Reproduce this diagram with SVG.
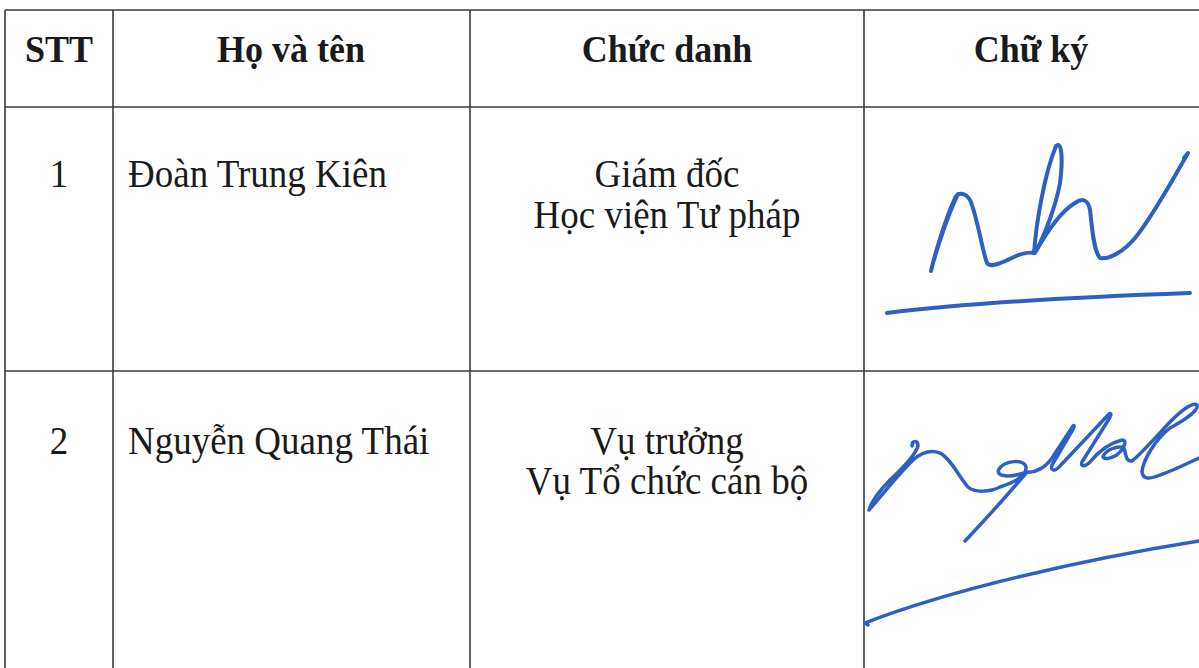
<svg xmlns="http://www.w3.org/2000/svg" width="1199" height="668" viewBox="0 0 1199 668">
<style>
.grid{stroke:#3a3a3a;stroke-width:1.6;fill:none}
.hd{font-family:"Liberation Serif","Times New Roman",serif;font-weight:bold;font-size:36px;fill:#1a1a1a}
.tx{font-family:"Liberation Serif","Times New Roman",serif;font-size:37px;fill:#1a1a1a}
.sig{fill:none;stroke:#2d60c2;stroke-width:4;stroke-linecap:round;stroke-linejoin:round}
</style>
<rect width="1199" height="668" fill="#fff"/>
<g id="grid" class="grid">
<line x1="5" y1="10" x2="1199" y2="10"/>
<line x1="5" y1="107" x2="1199" y2="107"/>
<line x1="5" y1="371" x2="1199" y2="371"/>
<line x1="5" y1="10" x2="5" y2="668"/>
<line x1="113" y1="10" x2="113" y2="668"/>
<line x1="470" y1="10" x2="470" y2="668"/>
<line x1="864" y1="10" x2="864" y2="668"/>
</g>
<g id="header">
<text class="hd" transform="translate(59,62) scale(1,1.05)" text-anchor="middle">STT</text>
<text class="hd" transform="translate(291,62) scale(1,1.05)" text-anchor="middle">Họ và tên</text>
<text class="hd" transform="translate(667,62) scale(1,1.05)" text-anchor="middle">Chức danh</text>
<text class="hd" transform="translate(1031,62) scale(1,1.05)" text-anchor="middle">Chữ ký</text>
</g>
<g id="row1">
<text class="tx" transform="translate(59,187) scale(1,1.08)" text-anchor="middle">1</text>
<text class="tx" transform="translate(128,187) scale(1,1.08)">Đoàn Trung Kiên</text>
<text class="tx" transform="translate(667,187) scale(1,1.08)" text-anchor="middle">Giám đốc</text>
<text class="tx" transform="translate(667,228) scale(1,1.08)" text-anchor="middle">Học viện Tư pháp</text>
</g>
<g id="row2">
<text class="tx" transform="translate(59,454) scale(1,1.08)" text-anchor="middle">2</text>
<text class="tx" transform="translate(128,454) scale(1,1.08)">Nguyễn Quang Thái</text>
<text class="tx" transform="translate(667,454) scale(1,1.08)" text-anchor="middle">Vụ trưởng</text>
<text class="tx" transform="translate(667,494) scale(1,1.08)" text-anchor="middle">Vụ Tổ chức cán bộ</text>
</g>
<g id="signature1" class="sig">
<path d="M 958 194 C 948 215, 936 250, 931 271 C 934 258, 944 222, 955 198 C 958 192, 965 192, 970 200 C 977 215, 982 250, 987 263 C 990 268, 1000 264, 1016 256 C 1024 253, 1030 252, 1034 253 C 1036 225, 1044 175, 1056 146 C 1062 140, 1063 160, 1060 183 C 1056 205, 1045 235, 1035 253 C 1045 235, 1060 212, 1075 203 C 1082 198, 1088 199, 1090 210 C 1092 225, 1093 250, 1100 258 C 1110 260, 1125 250, 1135 238 C 1150 220, 1170 185, 1188 153 L 1184 158"/>
<path d="M 887 313 C 950 305, 1050 298, 1190 293"/>
</g>
<g id="signature2" class="sig" style="stroke-width:3.5">
<path d="M 912 446 C 912 440, 918 440, 918 446 C 916 453, 905 466, 890 480 C 880 490, 872 500, 869 510 C 878 500, 895 478, 913 460 C 922 452, 932 450, 940 453 C 950 458, 958 475, 968 487 C 975 493, 990 492, 1000 487 C 1012 483, 1027 476, 1026 467 C 1024 459, 1005 460, 999 469 C 995 477, 1010 478, 1027 472 C 1010 492, 985 520, 965 541"/>
<path d="M 1027 472 C 1035 473, 1045 468, 1052 458 L 1073 426 C 1075 424, 1074 428, 1072 431 L 1052 465 C 1050 471, 1055 472, 1060 466 L 1109 414 C 1112 412, 1111 416, 1109 419 L 1082 462 C 1080 467, 1085 467, 1090 462 C 1098 452, 1110 443, 1122 440 C 1127 440, 1125 446, 1120 452 C 1115 458, 1105 460, 1103 457 C 1105 450, 1118 445, 1124 448 C 1126 455, 1126 462, 1132 461 C 1140 455, 1155 438, 1170 422 C 1182 410, 1193 402, 1197 405 C 1199 410, 1185 420, 1170 428 C 1155 440, 1143 460, 1142 472 C 1143 480, 1150 479, 1160 475 C 1175 470, 1190 462, 1199 458"/>
<path d="M 868 625 L 865 623 C 950 590, 1080 560, 1199 541"/>
</g>
</svg>
